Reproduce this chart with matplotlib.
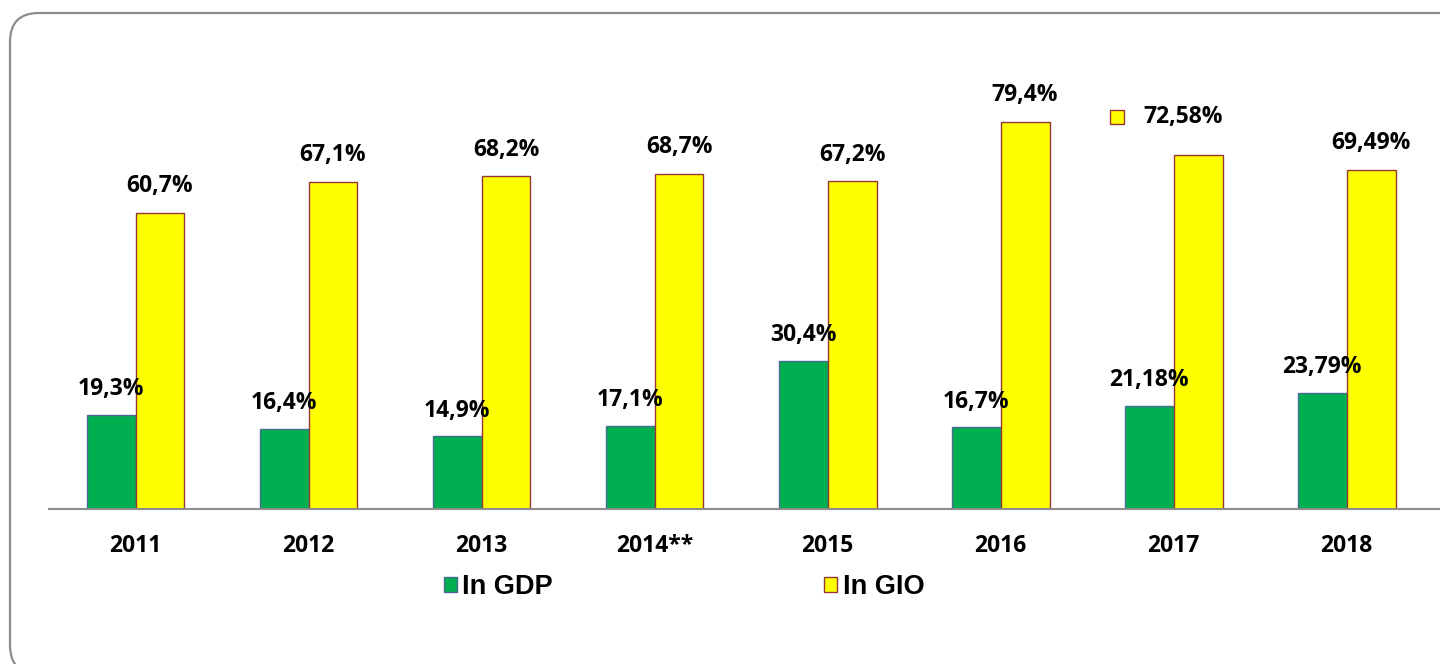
import numpy as np
import matplotlib
matplotlib.use('Agg')
import matplotlib.pyplot as plt
from matplotlib.patches import FancyBboxPatch, Patch
from matplotlib.transforms import offset_copy

# chart data
years = ['2011', '2012', '2013', '2014**', '2015', '2016', '2017', '2018']
in_gdp = [19.3, 16.4, 14.9, 17.1, 30.4, 16.7, 21.18, 23.79]
in_gio = [60.7, 67.1, 68.2, 68.7, 67.2, 79.4, 72.58, 69.49]
gdp_labels = ['19,3%', '16,4%', '14,9%', '17,1%', '30,4%', '16,7%', '21,18%', '23,79%']
gio_labels = ['60,7%', '67,1%', '68,2%', '68,7%', '67,2%', '79,4%', '72,58%', '69,49%']

GREEN = '#00B050'
GREEN_EDGE = '#4A6A94'
YELLOW = '#FFFF00'
YELLOW_EDGE = '#953735'
LABEL_FONT = ['Open Sans', 'DejaVu Sans']
FS = 16.5

W, H = 1440, 664
fig = plt.figure(figsize=(W / 100, H / 100), dpi=100)

# rounded frame round the chart (runs off the right and bottom edges)
frame = FancyBboxPatch((10 / W, -10 / H), 1500 / W, (H - 13 + 10) / H,
                       boxstyle='round,pad=0,rounding_size=0.02',
                       transform=fig.transFigure, facecolor='none',
                       edgecolor='#8C8C8C', linewidth=1.6,
                       mutation_aspect=W / H, zorder=-1)
fig.patches.append(frame)

ax = fig.add_axes([49 / W, 1 - 509 / H, (W - 49) / W, (509 - 40) / H])
ax.patch.set_alpha(0)

x = np.arange(len(years))
bw = 0.283
gdp_bars = ax.bar(x - bw / 2, in_gdp, bw, color=GREEN, edgecolor=GREEN_EDGE, linewidth=1.0)
gio_bars = ax.bar(x + bw / 2, in_gio, bw, color=YELLOW, edgecolor=YELLOW_EDGE, linewidth=1.0)

ax.set_xlim(-0.5, 7.54)
ax.set_ylim(0, 96.1)

for spine in ['top', 'right', 'left']:
    ax.spines[spine].set_visible(False)
ax.spines['bottom'].set_color('#8C8C8C')
ax.spines['bottom'].set_linewidth(1.5)
ax.set_yticks([])
ax.set_xticks(x)
ax.set_xticklabels(years, fontsize=FS, fontweight='bold', family=LABEL_FONT)
ax.tick_params(axis='x', length=0, pad=18)

# value labels
for i in range(len(years)):
    ax.annotate(gdp_labels[i], (x[i] - bw / 2, in_gdp[i]), xytext=(0, 18.5),
                textcoords='offset points', ha='center', va='center',
                fontsize=FS, fontweight='bold', family=LABEL_FONT)
    if years[i] == '2017':
        # this one sits up-left with its own legend key
        ax.annotate(gio_labels[i], (x[i] + bw / 2, in_gio[i]), xytext=(-11, 27),
                    textcoords='offset points', ha='center', va='center',
                    fontsize=FS, fontweight='bold', family=LABEL_FONT)
        key_tr = offset_copy(ax.transData, fig=fig, x=-58, y=27.5, units='points')
        ax.plot([x[i] + bw / 2], [in_gio[i]], marker='s', ms=9.5, mfc=YELLOW,
                mec=YELLOW_EDGE, mew=1.0, transform=key_tr, clip_on=False)
    else:
        ax.annotate(gio_labels[i], (x[i] + bw / 2, in_gio[i]), xytext=(0, 19),
                    textcoords='offset points', ha='center', va='center',
                    fontsize=FS, fontweight='bold', family=LABEL_FONT)

handles = [Patch(facecolor=GREEN, edgecolor=GREEN_EDGE, linewidth=1.0, label='In GDP'),
           Patch(facecolor=YELLOW, edgecolor=YELLOW_EDGE, linewidth=1.0, label='In GIO')]
fig.legend(handles=handles, loc='center', bbox_to_anchor=(684 / W, 1 - 587 / H),
           ncol=2, frameon=False, handlelength=0.5, handleheight=0.5,
           handletextpad=0.2, columnspacing=10.0,
           prop={'family': 'Liberation Sans', 'weight': 'bold', 'size': 19.5})

fig.savefig('out.png', dpi=100)
